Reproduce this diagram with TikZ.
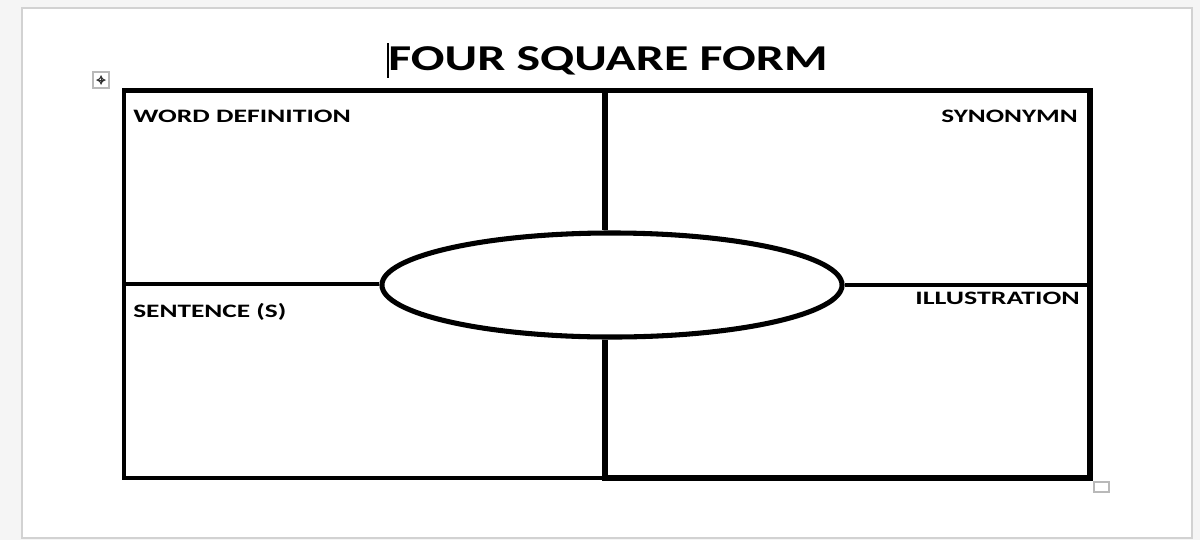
\documentclass[tikz,border=0pt]{standalone}
\usepackage{fontspec}
\setmainfont{Carlito}
\usepackage{graphicx}
\usetikzlibrary{shapes.geometric,calc}
\newcommand{\widetext}[2]{\scalebox{#1}[1]{#2}}
\begin{document}
\begin{tikzpicture}[
  x=0.025cm, y=-0.025cm,
  label/.style={inner sep=0pt, font=\fontsize{13.5}{14}\selectfont\bfseries},
  frame/.style={line cap=rect, draw=black},
  oval/.style={draw, ellipse, inner sep=0pt, line width=3.6pt,
               minimum width=11.5cm, minimum height=2.6cm},
  gadget/.style={draw=gray!55, fill=white, line width=0.8pt}
]
% Page and margins
\fill[gray!8] (0,0) rectangle (1200,540);
\draw[fill=white, draw=gray!35, line width=1.2pt] (22,8) rectangle (1192,538);
% Title
\node[inner sep=0pt, anchor=base, font=\fontsize{25.9}{28}\selectfont\bfseries] (title) at (608,70) {\widetext{1.37}{FOUR SQUARE FORM}};
\coordinate (cursortop) at (388,43);
\coordinate (cursorbot) at (388,78);
\draw[line width=0.9pt] (cursortop) -- (cursorbot);
% Corners of the form
\coordinate (tl) at (124,90.5);
\coordinate (tr) at (1090,90.5);
\coordinate (bl) at (124,478);
\coordinate (br) at (1090,478);
\coordinate (mt) at (605,90.5);
\coordinate (mb) at (605,478);
\coordinate (ml) at (124,284);
\coordinate (mr) at (1090,285);
% Center oval
\node[oval] (eye) at (612,285) {};
% Outer frame
\draw[frame, line width=2.8pt] (bl) -- (tl);
\draw[frame, line width=3pt] (tl) -- (tr);
\draw[frame, line width=4.2pt] (tr) -- (br);
\draw[frame, line width=3.8pt] (br) -- (mb);
\draw[frame, line width=2.2pt] (mb) -- (bl);
% Inner lines
\draw[line width=3.8pt] (mt) -- (mt |- eye.north);
\draw[line width=3.8pt] (mb) -- (mb |- eye.south);
\draw[line width=2.2pt] (ml) -- (ml -| eye.west);
\draw[line width=2.8pt] (mr) -- (mr -| eye.east);
% Labels
\node[label, anchor=base west] (worddef) at (133,122) {\widetext{1.46}{WORD DEFINITION}};
\node[label, anchor=base east] (synonym) at (1078,122) {\widetext{1.43}{SYNONYMN}};
\node[label, anchor=base west] (sentence) at (133,317) {\widetext{1.44}{SENTENCE (S)}};
\node[label, anchor=base east] (illus) at (1080,304) {\widetext{1.47}{ILLUSTRATION}};
% Table handles
\draw[gadget] (93,72) rectangle (109,88);
\draw[line width=0.5pt, gray!40!black, <->, >=stealth] (96,80) -- (106,80);
\draw[line width=0.5pt, gray!40!black, <->, >=stealth] (101,75) -- (101,85);
\draw[gadget] (1094,482) rectangle (1109,492);
\end{tikzpicture}
\end{document}
